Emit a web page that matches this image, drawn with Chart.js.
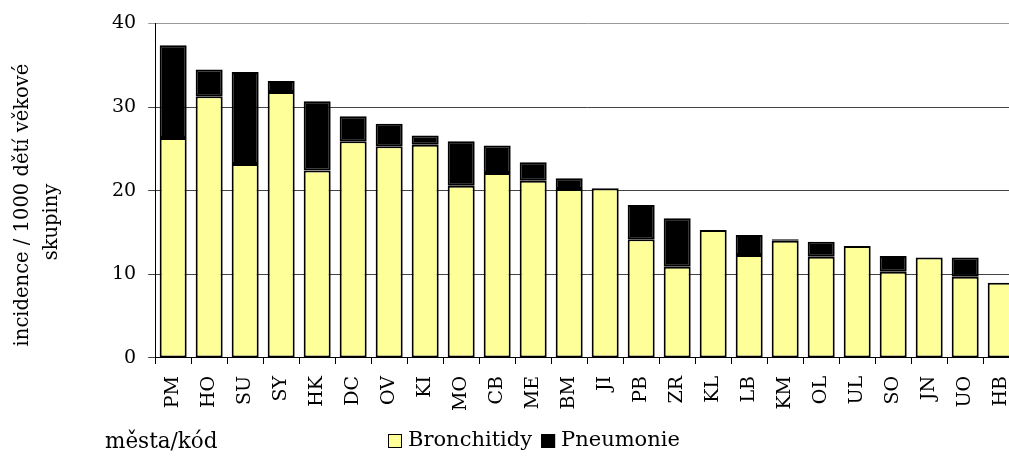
<!DOCTYPE html>
<html lang="cs">
<head>
<meta charset="utf-8">
<title>Incidence bronchitid a pneumonií</title>
<script src="https://cdn.jsdelivr.net/npm/chart.js@4.4.1/dist/chart.umd.min.js"></script>
<style>
  html, body { margin: 0; padding: 0; background: #fff; overflow: hidden; }
  #wrap { position: relative; width: 1036px; height: 456px; }
</style>
</head>
<body>
<div id="wrap"><canvas id="chart"></canvas></div>
<script>
// Města (kódy), seřazená podle celkové incidence
const cities = ['PM','HO','SU','SY','HK','DC','OV','KI','MO','CB','ME','BM','JI','PB','ZR','KL','LB','KM','OL','UL','SO','JN','UO','HB'];
// Incidence na 1000 dětí věkové skupiny
const bronchitidy = [26.3,31.3,23.2,31.8,22.4,25.9,25.3,25.5,20.6,22.1,21.2,20.2,20.3,14.2,10.9,15.3,12.3,14.0,12.1,13.4,10.3,12.0,9.7,9.0];
const pneumonie   = [11.1,3.2,11.0,1.3,8.3,3.0,2.7,1.1,5.3,3.3,2.2,1.3,0,4.1,5.8,0,2.4,0.2,1.8,0,1.9,0,2.3,0];
const yTicks = [0, 10, 20, 30, 40];
const yTitle = ['incidence / 1000 dětí věkové', 'skupiny'];
const xTitle = 'města/kód';

const FONT = 'DejaVu Serif';

// Svislý popisek osy y, popisek osy x a legenda pod grafem
const extraTexts = {
  id: 'extraTexts',
  afterDraw(chart) {
    const ctx = chart.ctx;
    ctx.save();
    ctx.fillStyle = '#000';

    // popisek osy y (dva řádky, otočené o 90°)
    ctx.font = '19.5px "' + FONT + '"';
    ctx.textAlign = 'center';
    ctx.textBaseline = 'alphabetic';
    const lines = [[28, 205], [57, 222]];
    yTitle.forEach((t, i) => {
      ctx.save();
      ctx.translate(lines[i][0], lines[i][1]);
      ctx.rotate(-Math.PI / 2);
      ctx.fillText(t, 0, 0);
      ctx.restore();
    });

    // popisek osy x
    ctx.font = '21.5px "' + FONT + '"';
    ctx.textBaseline = 'middle';
    ctx.textAlign = 'left';
    ctx.fillText(xTitle, 105, 442);

    // legenda
    let x = 388;
    const y = 441;
    ctx.font = '21px "' + FONT + '"';
    chart.data.datasets.forEach((ds) => {
      ctx.fillStyle = ds.backgroundColor;
      ctx.fillRect(x, y - 7, 14, 14);
      ctx.strokeStyle = '#000';
      ctx.lineWidth = 1;
      ctx.strokeRect(x + 0.5, y - 6.5, 13, 13);
      ctx.fillStyle = '#000';
      ctx.fillText(ds.label, x + 20, y);
      x += 20 + ctx.measureText(ds.label).width + 9;
    });
    ctx.restore();
  }
};

new Chart(document.getElementById('chart'), {
  type: 'bar',
  data: {
    labels: cities,
    datasets: [
      {
        label: 'Bronchitidy',
        data: bronchitidy,
        backgroundColor: '#FFFF99',
        borderColor: '#000',
        borderWidth: 2,
        borderSkipped: false
      },
      {
        label: 'Pneumonie',
        data: pneumonie,
        backgroundColor: '#000000',
        borderColor: '#000',
        borderWidth: 2,
        borderSkipped: false
      }
    ]
  },
  options: {
    responsive: true,
    maintainAspectRatio: false,
    animation: false,
    layout: { padding: { top: 17, right: 0, bottom: 33, left: 100 } },
    datasets: { bar: { categoryPercentage: 1.0, barPercentage: 0.75 } },
    plugins: {
      legend: { display: false },
      tooltip: { enabled: false }
    },
    scales: {
      x: {
        stacked: true,
        grid: {
          offset: true,
          drawOnChartArea: false,
          drawTicks: true,
          tickLength: 6,
          color: '#000'
        },
        border: { display: true, color: '#000', width: 1 },
        ticks: {
          color: '#000',
          font: { family: FONT, size: 19 },
          minRotation: 90,
          maxRotation: 90,
          autoSkip: false,
          padding: 12
        }
      },
      y: {
        stacked: true,
        min: 0,
        max: 40,
        afterBuildTicks(scale) { scale.ticks = yTicks.map(v => ({ value: v })); },
        grid: {
          color: ctx => (ctx.tick && ctx.tick.value === 40 ? '#999' : '#444'),
          lineWidth: 1,
          tickLength: 7,
          drawTicks: true
        },
        border: { display: true, color: '#000', width: 1 },
        ticks: {
          color: '#000',
          font: { family: FONT, size: 19 },
          padding: 12
        }
      }
    }
  },
  plugins: [extraTexts]
});
</script>
</body>
</html>
